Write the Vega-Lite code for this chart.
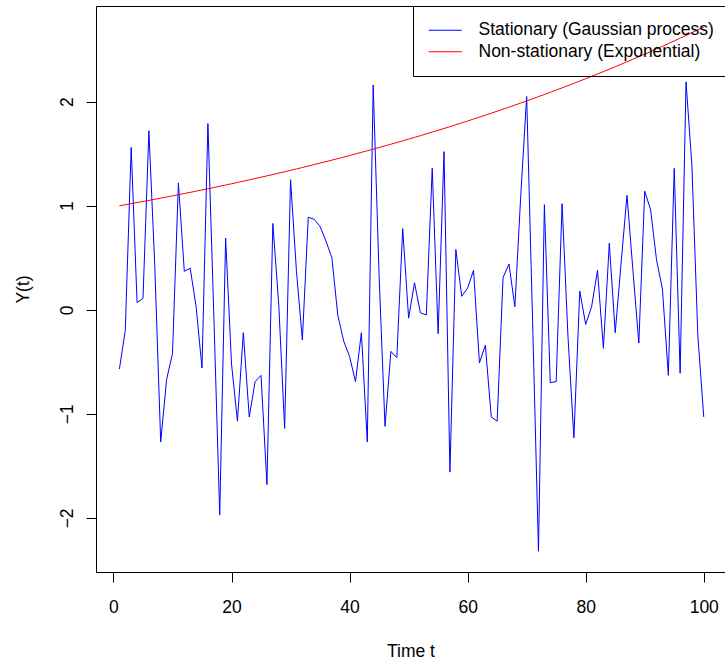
{
  "$schema": "https://vega.github.io/schema/vega-lite/v6.json",
  "width": 629,
  "height": 566,
  "autosize": {"type": "none"},
  "padding": {"left": 96, "top": 6, "right": 0, "bottom": 89},
  "background": "white",
  "config": {
    "font": "Liberation Sans",
    "view": {"stroke": "black", "strokeWidth": 1},
    "axis": {
      "grid": false,
      "domain": false,
      "tickColor": "black",
      "tickSize": 10,
      "labelFontSize": 17.5,
      "labelColor": "black",
      "titleFontSize": 17.5,
      "titleFontWeight": "normal",
      "titleColor": "black"
    }
  },
  "data": {
    "values": [
      {"t": 1, "stationary": -0.57, "nonstationary": 1.0000},
      {"t": 2, "stationary": -0.2, "nonstationary": 1.0102},
      {"t": 3, "stationary": 1.56, "nonstationary": 1.0204},
      {"t": 4, "stationary": 0.07, "nonstationary": 1.0308},
      {"t": 5, "stationary": 0.11, "nonstationary": 1.0413},
      {"t": 6, "stationary": 1.72, "nonstationary": 1.0518},
      {"t": 7, "stationary": 0.42, "nonstationary": 1.0625},
      {"t": 8, "stationary": -1.27, "nonstationary": 1.0733},
      {"t": 9, "stationary": -0.67, "nonstationary": 1.0842},
      {"t": 10, "stationary": -0.42, "nonstationary": 1.0952},
      {"t": 11, "stationary": 1.22, "nonstationary": 1.1063},
      {"t": 12, "stationary": 0.37, "nonstationary": 1.1175},
      {"t": 13, "stationary": 0.40, "nonstationary": 1.1289},
      {"t": 14, "stationary": 0.03, "nonstationary": 1.1403},
      {"t": 15, "stationary": -0.56, "nonstationary": 1.1519},
      {"t": 16, "stationary": 1.79, "nonstationary": 1.1636},
      {"t": 17, "stationary": -0.05, "nonstationary": 1.1754},
      {"t": 18, "stationary": -1.97, "nonstationary": 1.1873},
      {"t": 19, "stationary": 0.69, "nonstationary": 1.1994},
      {"t": 20, "stationary": -0.52, "nonstationary": 1.2116},
      {"t": 21, "stationary": -1.07, "nonstationary": 1.2239},
      {"t": 22, "stationary": -0.22, "nonstationary": 1.2363},
      {"t": 23, "stationary": -1.03, "nonstationary": 1.2488},
      {"t": 24, "stationary": -0.69, "nonstationary": 1.2615},
      {"t": 25, "stationary": -0.63, "nonstationary": 1.2743},
      {"t": 26, "stationary": -1.68, "nonstationary": 1.2873},
      {"t": 27, "stationary": 0.83, "nonstationary": 1.3003},
      {"t": 28, "stationary": 0.05, "nonstationary": 1.3135},
      {"t": 29, "stationary": -1.14, "nonstationary": 1.3269},
      {"t": 30, "stationary": 1.25, "nonstationary": 1.3403},
      {"t": 31, "stationary": 0.37, "nonstationary": 1.3540},
      {"t": 32, "stationary": -0.29, "nonstationary": 1.3677},
      {"t": 33, "stationary": 0.89, "nonstationary": 1.3816},
      {"t": 34, "stationary": 0.87, "nonstationary": 1.3956},
      {"t": 35, "stationary": 0.80, "nonstationary": 1.4098},
      {"t": 36, "stationary": 0.66, "nonstationary": 1.4241},
      {"t": 37, "stationary": 0.50, "nonstationary": 1.4386},
      {"t": 38, "stationary": -0.05, "nonstationary": 1.4532},
      {"t": 39, "stationary": -0.30, "nonstationary": 1.4679},
      {"t": 40, "stationary": -0.45, "nonstationary": 1.4828},
      {"t": 41, "stationary": -0.69, "nonstationary": 1.4979},
      {"t": 42, "stationary": -0.22, "nonstationary": 1.5131},
      {"t": 43, "stationary": -1.27, "nonstationary": 1.5285},
      {"t": 44, "stationary": 2.16, "nonstationary": 1.5440},
      {"t": 45, "stationary": 0.33, "nonstationary": 1.5597},
      {"t": 46, "stationary": -1.12, "nonstationary": 1.5755},
      {"t": 47, "stationary": -0.40, "nonstationary": 1.5915},
      {"t": 48, "stationary": -0.46, "nonstationary": 1.6077},
      {"t": 49, "stationary": 0.78, "nonstationary": 1.6240},
      {"t": 50, "stationary": -0.08, "nonstationary": 1.6405},
      {"t": 51, "stationary": 0.26, "nonstationary": 1.6571},
      {"t": 52, "stationary": -0.03, "nonstationary": 1.6740},
      {"t": 53, "stationary": -0.05, "nonstationary": 1.6910},
      {"t": 54, "stationary": 1.36, "nonstationary": 1.7081},
      {"t": 55, "stationary": -0.23, "nonstationary": 1.7255},
      {"t": 56, "stationary": 1.52, "nonstationary": 1.7430},
      {"t": 57, "stationary": -1.56, "nonstationary": 1.7607},
      {"t": 58, "stationary": 0.58, "nonstationary": 1.7786},
      {"t": 59, "stationary": 0.13, "nonstationary": 1.7966},
      {"t": 60, "stationary": 0.21, "nonstationary": 1.8149},
      {"t": 61, "stationary": 0.38, "nonstationary": 1.8333},
      {"t": 62, "stationary": -0.51, "nonstationary": 1.8519},
      {"t": 63, "stationary": -0.34, "nonstationary": 1.8707},
      {"t": 64, "stationary": -1.03, "nonstationary": 1.8897},
      {"t": 65, "stationary": -1.07, "nonstationary": 1.9089},
      {"t": 66, "stationary": 0.31, "nonstationary": 1.9283},
      {"t": 67, "stationary": 0.44, "nonstationary": 1.9477},
      {"t": 68, "stationary": 0.03, "nonstationary": 1.9675},
      {"t": 69, "stationary": 1.1, "nonstationary": 1.9875},
      {"t": 70, "stationary": 2.05, "nonstationary": 2.0077},
      {"t": 71, "stationary": -0.1, "nonstationary": 2.0281},
      {"t": 72, "stationary": -2.32, "nonstationary": 2.0487},
      {"t": 73, "stationary": 1.01, "nonstationary": 2.0695},
      {"t": 74, "stationary": -0.70, "nonstationary": 2.0905},
      {"t": 75, "stationary": -0.69, "nonstationary": 2.1117},
      {"t": 76, "stationary": 1.02, "nonstationary": 2.1332},
      {"t": 77, "stationary": -0.26, "nonstationary": 2.1548},
      {"t": 78, "stationary": -1.23, "nonstationary": 2.1767},
      {"t": 79, "stationary": 0.18, "nonstationary": 2.1988},
      {"t": 80, "stationary": -0.14, "nonstationary": 2.2211},
      {"t": 81, "stationary": 0.03, "nonstationary": 2.2437},
      {"t": 82, "stationary": 0.38, "nonstationary": 2.2665},
      {"t": 83, "stationary": -0.37, "nonstationary": 2.2895},
      {"t": 84, "stationary": 0.64, "nonstationary": 2.3128},
      {"t": 85, "stationary": -0.22, "nonstationary": 2.3362},
      {"t": 86, "stationary": 0.45, "nonstationary": 2.3600},
      {"t": 87, "stationary": 1.10, "nonstationary": 2.3839},
      {"t": 88, "stationary": 0.38, "nonstationary": 2.4081},
      {"t": 89, "stationary": -0.32, "nonstationary": 2.4326},
      {"t": 90, "stationary": 1.14, "nonstationary": 2.4573},
      {"t": 91, "stationary": 0.96, "nonstationary": 2.4822},
      {"t": 92, "stationary": 0.48, "nonstationary": 2.5074},
      {"t": 93, "stationary": 0.2, "nonstationary": 2.5329},
      {"t": 94, "stationary": -0.63, "nonstationary": 2.5586},
      {"t": 95, "stationary": 1.36, "nonstationary": 2.5846},
      {"t": 96, "stationary": -0.61, "nonstationary": 2.6108},
      {"t": 97, "stationary": 2.19, "nonstationary": 2.6373},
      {"t": 98, "stationary": 1.38, "nonstationary": 2.6641},
      {"t": 99, "stationary": -0.25, "nonstationary": 2.6912},
      {"t": 100, "stationary": -1.03, "nonstationary": 2.7183}
    ]
  },
  "transform": [{"fold": ["stationary", "nonstationary"], "as": ["series", "y"]}],
  "mark": {"type": "line", "strokeWidth": 1},
  "encoding": {
    "x": {
      "field": "t",
      "type": "quantitative",
      "scale": {"domain": [-2.96, 103.6], "nice": false, "zero": false},
      "axis": {
        "values": [0, 20, 40, 60, 80, 100],
        "title": "Time t",
        "labelPadding": 30,
        "labelBaseline": "alphabetic",
        "titleBaseline": "alphabetic",
        "titleY": 84
      }
    },
    "y": {
      "field": "y",
      "type": "quantitative",
      "scale": {"domain": [-2.52, 2.92], "nice": false, "zero": false},
      "axis": {
        "values": [-2, -1, 0, 1, 2],
        "title": "Y(t)",
        "labelAngle": -90,
        "labelAlign": "center",
        "labelBaseline": "alphabetic",
        "labelPadding": 14,
        "titleAngle": -90,
        "titleX": -68,
        "titleBaseline": "alphabetic"
      }
    },
    "color": {
      "field": "series",
      "type": "nominal",
      "scale": {"domain": ["stationary", "nonstationary"], "range": ["#0000ff", "#ff0000"]},
      "legend": {
        "title": null,
        "orient": "none",
        "legendX": 317,
        "legendY": 0,
        "strokeColor": "black",
        "padding": 15.25,
        "symbolType": "M-1.03,0H2.97",
        "symbolSize": 272,
        "symbolStrokeWidth": 1,
        "labelFontSize": 17.5,
        "labelColor": "black",
        "labelOffset": 32.25,
        "labelLimit": 400,
        "rowPadding": 3.5,
        "labelExpr": "datum.value == 'stationary' ? 'Stationary (Gaussian process)' : 'Non-stationary (Exponential)'",
        "encode": {
          "symbols": {
            "update": {
              "stroke": {"scale": "color", "field": "value"},
              "fill": {"value": "transparent"},
              "strokeWidth": {"value": 1}
            }
          }
        }
      }
    }
  }
}
